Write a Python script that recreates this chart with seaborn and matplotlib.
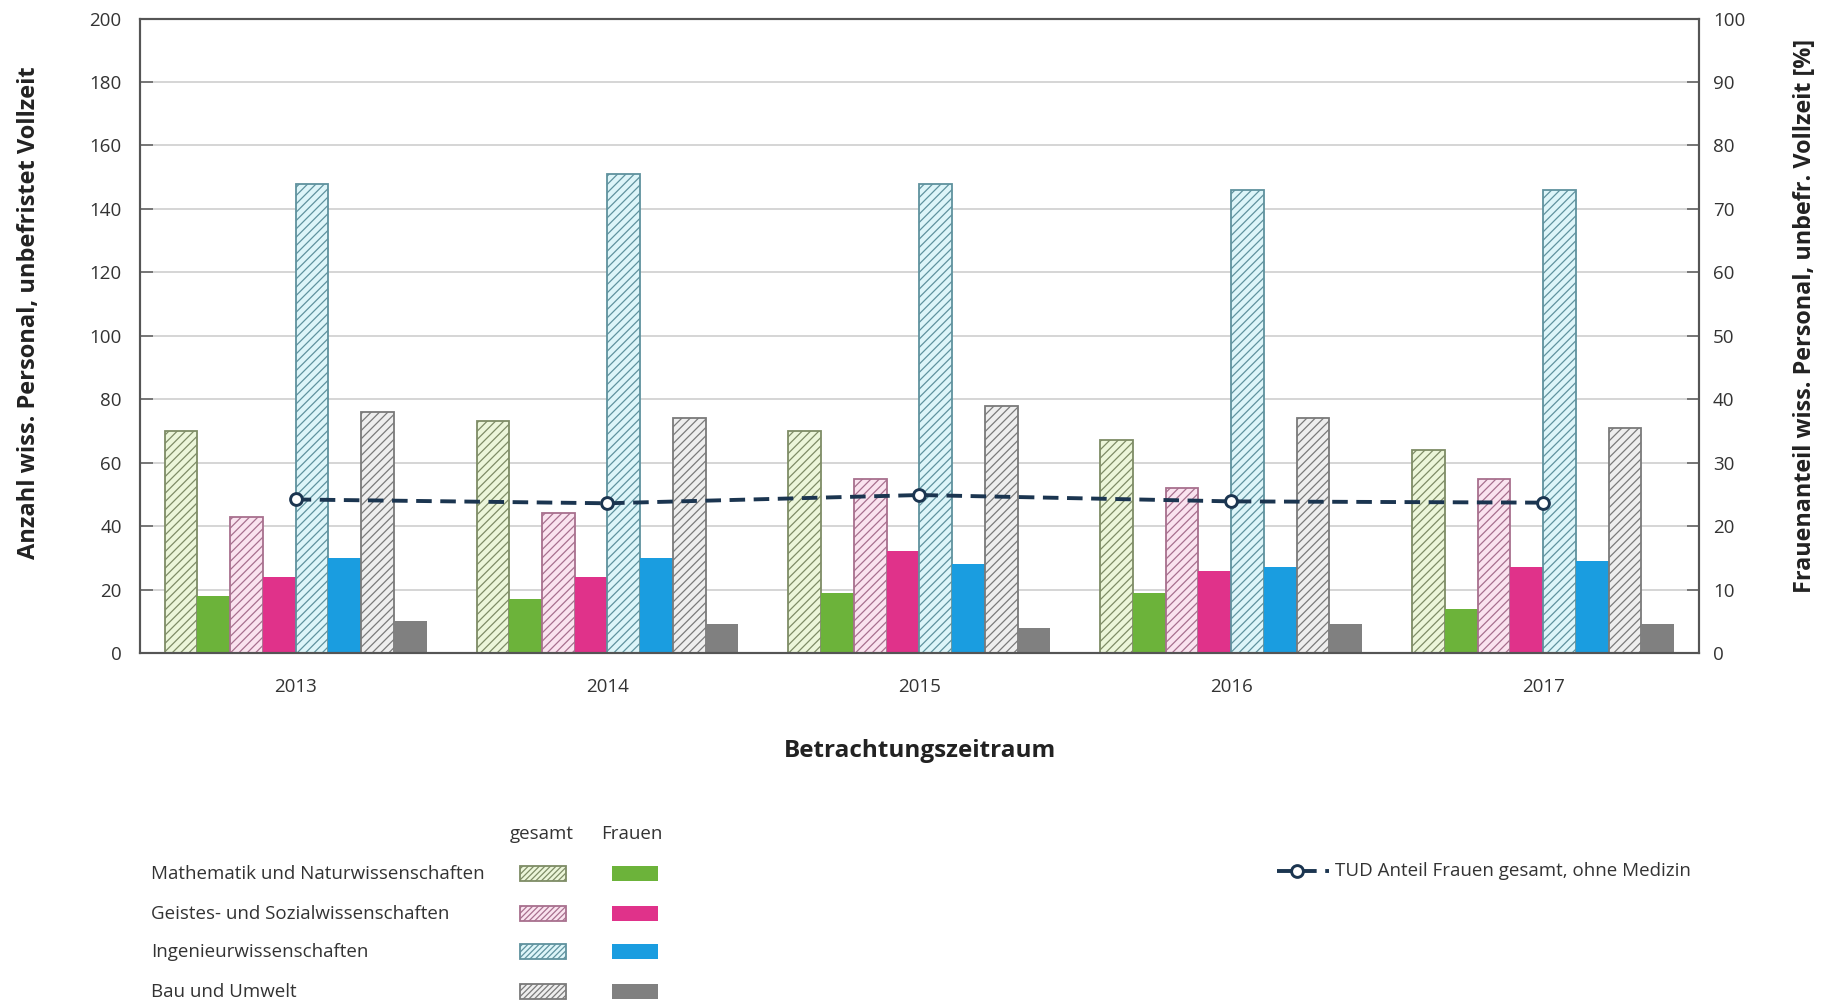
import numpy as np
import pandas as pd
import matplotlib
matplotlib.use("Agg")
import matplotlib.pyplot as plt
from matplotlib.patches import Rectangle
from matplotlib.lines import Line2D
import seaborn as sns

# ---------------- data ----------------
years = ["2013", "2014", "2015", "2016", "2017"]
fields = ["Mathematik und Naturwissenschaften", "Geistes- und Sozialwissenschaften",
          "Ingenieurwissenschaften", "Bau und Umwelt"]
math_total = [70, 73, 70, 67, 64]
math_women = [18, 17, 19, 19, 14]
geist_total = [43, 44, 55, 52, 55]
geist_women = [24, 24, 32, 26, 27]
ing_total = [148, 151, 148, 146, 146]
ing_women = [30, 30, 28, 27, 29]
bau_total = [76, 74, 78, 74, 71]
bau_women = [10, 9, 8, 9, 9]
share_women = [24.2, 23.6, 24.9, 23.9, 23.7]

totals = [math_total, geist_total, ing_total, bau_total]
women = [math_women, geist_women, ing_women, bau_women]

# colours
solid_cols = ["#6cb33a", "#e0328a", "#1a9de0", "#808080"]
light_cols = ["#ecf6da", "#fae3ef", "#ddf5f9", "#eeeeee"]
edge_cols = ["#a4cf6a", "#e77fb2", "#62cbd9", "#9a9a9a"]
hatch_cols = ["#7e8c66", "#a8708e", "#5f929e", "#7a7a7a"]
navy = "#1b3550"

W, H = 1825, 1006

sns.set_theme(style="white")
plt.rcParams["font.family"] = ["Open Sans", "DejaVu Sans"]
plt.rcParams["hatch.linewidth"] = 0.9

# long table
rows = []
order = []
for fi, f in enumerate(fields):
    for kind, vals in (("gesamt", totals[fi]), ("Frauen", women[fi])):
        key = f + " | " + kind
        order.append(key)
        for y, v in zip(years, vals):
            rows.append({"Jahr": y, "Serie": key, "Wert": v})
df = pd.DataFrame(rows)

palette = {}
for fi, f in enumerate(fields):
    palette[f + " | gesamt"] = light_cols[fi]
    palette[f + " | Frauen"] = solid_cols[fi]

fig = plt.figure(figsize=(W / 100, H / 100), dpi=100)
ax = fig.add_axes([139.7 / W, 1 - 653 / H, (1699 - 139.7) / W, (653 - 18.6) / H])

sns.barplot(data=df, x="Jahr", y="Wert", hue="Serie", hue_order=order, order=years,
            palette=palette, width=0.84, gap=0, legend=False, ax=ax, errorbar=None,
            saturation=1)

for ci, cont in enumerate(ax.containers):
    fi = ci // 2
    is_total = ci % 2 == 0
    for p in cont:
        if is_total:
            p.set_facecolor(light_cols[fi])
            p.set_hatch("////")
            try:
                p.set_hatchcolor(hatch_cols[fi])
                p.set_edgecolor(edge_cols[fi])
            except AttributeError:
                p.set_edgecolor(hatch_cols[fi])
            p.set_linewidth(1.3)
        else:
            p.set_facecolor(solid_cols[fi])
            p.set_edgecolor("none")
            p.set_linewidth(0)

ax.set_ylim(0, 200)
ax.set_yticks(np.arange(0, 201, 20))
ax.set_xlim(-0.5, len(years) - 0.5)
ax.yaxis.grid(True, color="#d2d2d2", linewidth=1.3)
ax.xaxis.grid(False)
ax.set_axisbelow(True)
ax.set_xticks(np.arange(len(years)) + 0.5, minor=True)
ax.tick_params(axis="x", which="major", length=0, pad=18, labelsize=13.5, labelcolor="#333333")
ax.tick_params(axis="x", which="minor", direction="in", length=5, width=1.2, color="#444444")
ax.tick_params(axis="y", direction="in", length=9, width=1.2, color="#666666", pad=13,
               labelsize=13.5, labelcolor="#333333", left=True)
for s in ax.spines.values():
    s.set_color("#555555")
    s.set_linewidth(1.5)
    s.set_visible(True)

ax.set_xlabel("Betrachtungszeitraum", fontsize=17.5, fontweight="bold", color="#222222")
ax.xaxis.set_label_coords(0.5004, -(751 - 653) / 634.4)
ax.xaxis.label.set_va("center")
ax.set_ylabel("Anzahl wiss. Personal, unbefristet Vollzeit", fontsize=17, fontweight="bold",
              color="#222222")
ax.yaxis.set_label_coords((29 - 139.7) / 1559.3, 0.536)
ax.yaxis.label.set_va("center")

# ---- right axis: line ----
ax2 = ax.twinx()
sns.pointplot(x=years, y=share_women, order=years, ax=ax2, color=navy, errorbar=None,
              marker="o", linestyle="--", linewidth=2.8, markersize=8.5,
              markerfacecolor="white", markeredgecolor=navy, markeredgewidth=2.1)
for ln in ax2.lines:
    ln.set_dashes((4.0, 2.2))
ax2.set_ylim(0, 100)
ax2.set_yticks(np.arange(0, 101, 10))
ax2.set_xlim(-0.5, len(years) - 0.5)
ax2.grid(False)
ax2.tick_params(axis="y", direction="in", length=9, width=1.2, color="#666666", pad=10,
                labelsize=13.5, labelcolor="#333333", right=True)
for s in ax2.spines.values():
    s.set_color("#555555")
    s.set_linewidth(1.5)
ax2.set_ylabel("Frauenanteil wiss. Personal, unbefr. Vollzeit [%]", fontsize=16.8,
               fontweight="bold", color="#222222")
ax2.yaxis.set_label_coords((1805 - 139.7) / 1559.3, 0.531)
ax2.yaxis.label.set_va("center")
ax2.yaxis.label.set_rotation(90)


# ---- custom legend ----
def fx(x):
    return x / W


def fy(y):
    return 1 - y / H


leg_fs = 13.5
fig.text(fx(542), fy(834), "gesamt", ha="center", va="center", fontsize=leg_fs, color="#333333")
fig.text(fx(632), fy(834), "Frauen", ha="center", va="center", fontsize=leg_fs, color="#333333")
row_y = [874, 914, 952, 992]
for fi, f in enumerate(fields):
    yy = row_y[fi]
    fig.text(fx(151), fy(yy), f, ha="left", va="center", fontsize=leg_fs, color="#333333")
    r1 = Rectangle((fx(520), fy(yy + 7)), fx(46), 15 / H, transform=fig.transFigure,
                   facecolor=light_cols[fi], edgecolor=edge_cols[fi], hatch="//////", lw=1.3)
    try:
        r1.set_hatchcolor(hatch_cols[fi])
    except AttributeError:
        r1.set_edgecolor(hatch_cols[fi])
    fig.add_artist(r1)
    r2 = Rectangle((fx(612), fy(yy + 7)), fx(46), 15 / H, transform=fig.transFigure,
                   facecolor=solid_cols[fi], edgecolor="none")
    fig.add_artist(r2)

l1 = Line2D([fx(1277), fx(1329)], [fy(871), fy(871)], transform=fig.transFigure,
            color=navy, lw=2.8, dashes=(4.0, 2.2))
fig.add_artist(l1)
l2 = Line2D([fx(1297)], [fy(871)], transform=fig.transFigure, color=navy, marker="o",
            markersize=8.5, markerfacecolor="white", markeredgecolor=navy, markeredgewidth=2.1,
            linestyle="none")
fig.add_artist(l2)
fig.text(fx(1335), fy(871), "TUD Anteil Frauen gesamt, ohne Medizin", ha="left", va="center",
         fontsize=leg_fs, color="#333333")

fig.savefig("out.png", dpi=100, facecolor="white")
